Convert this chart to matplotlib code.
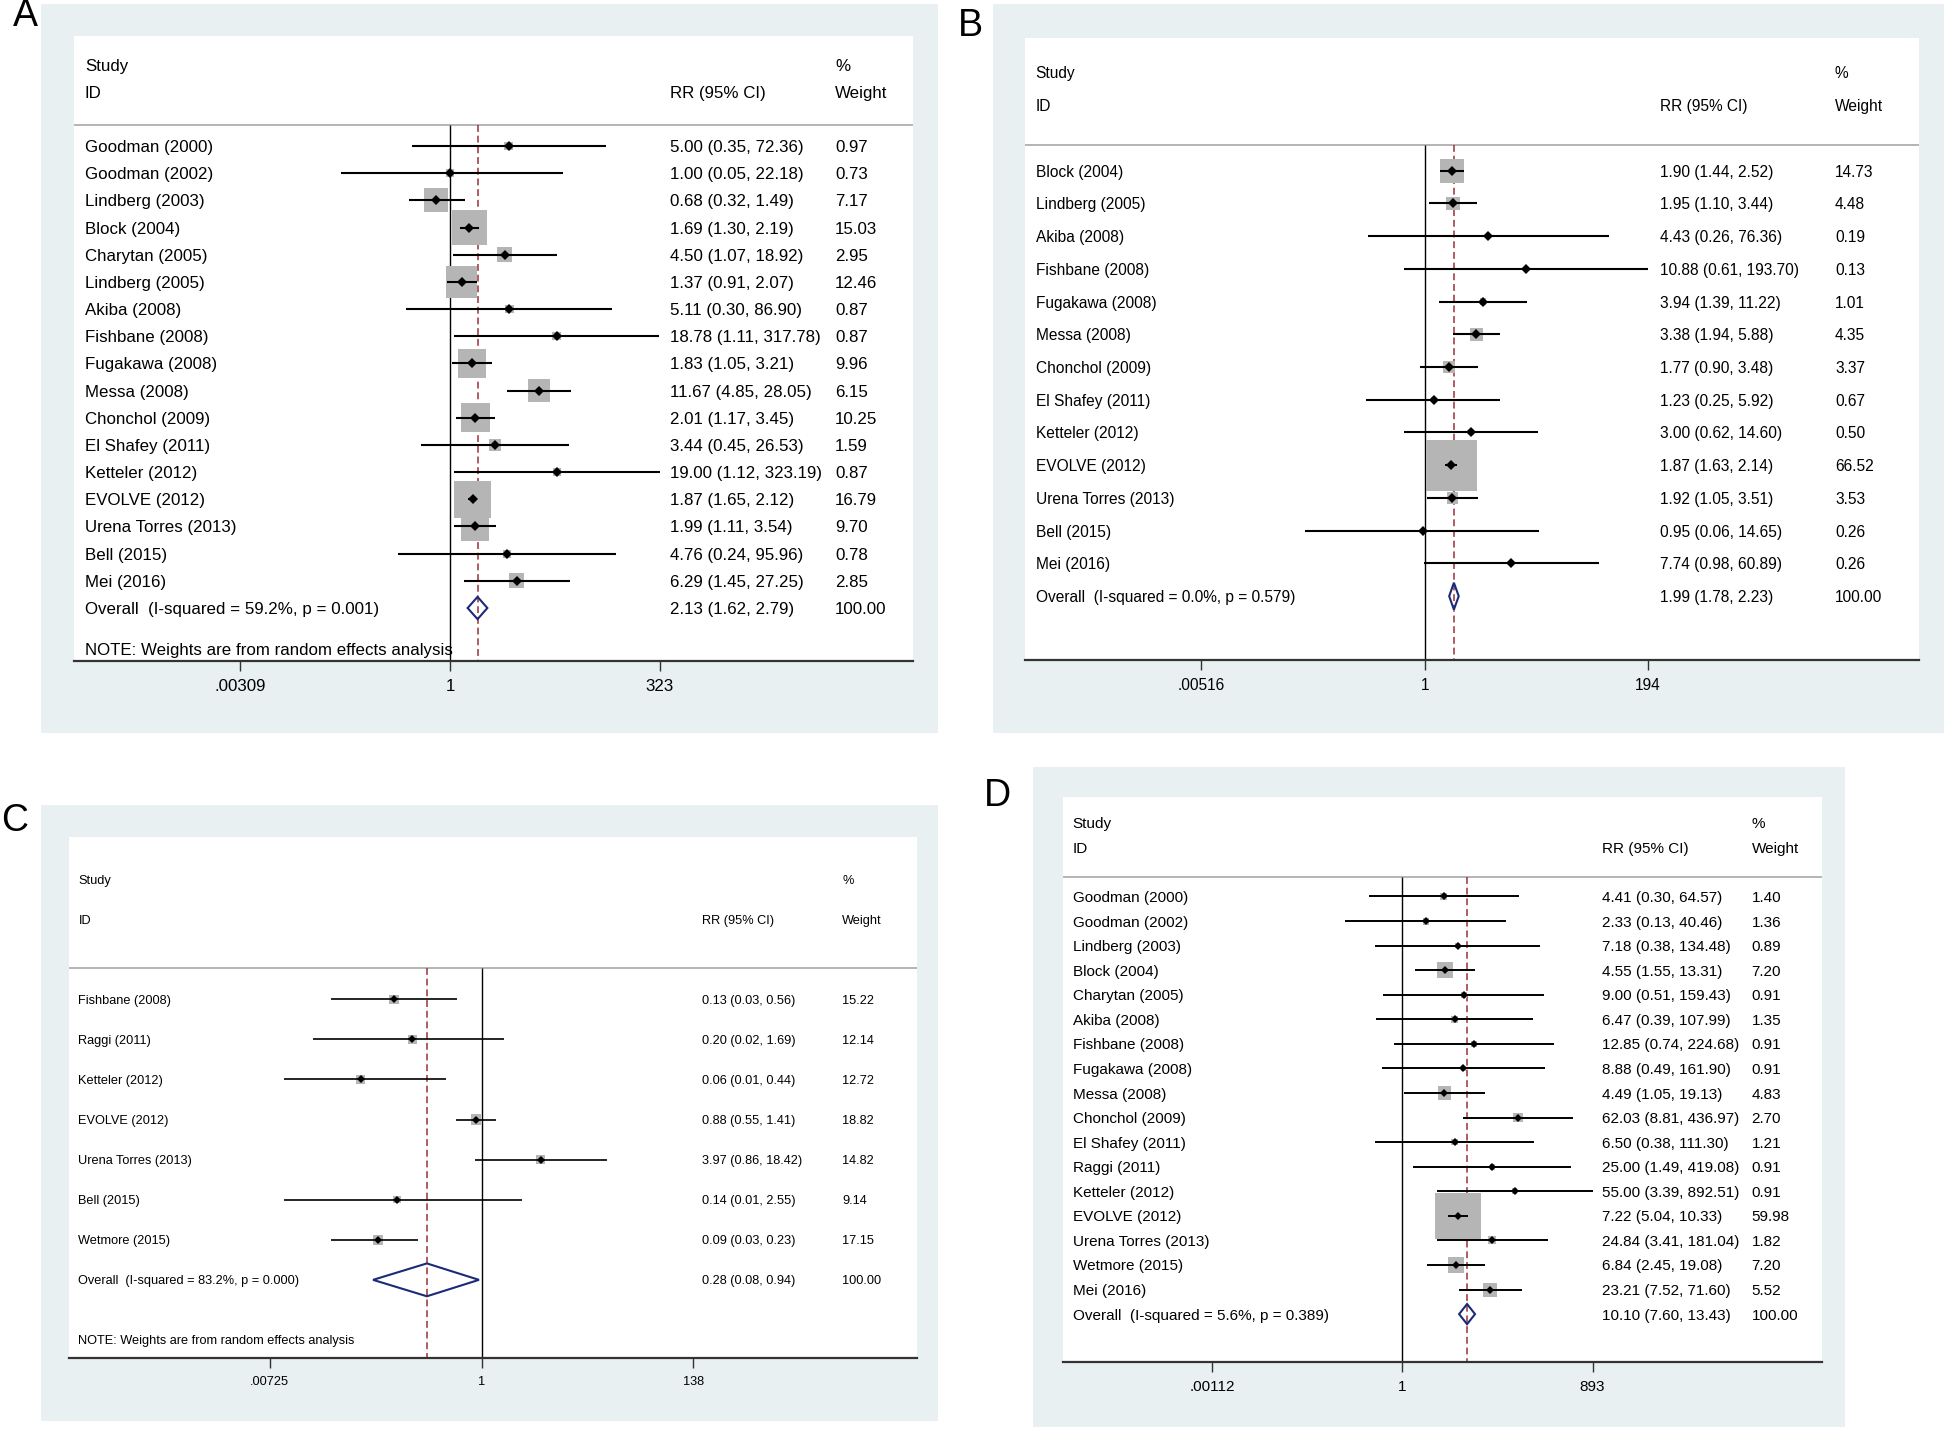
import numpy as np
import matplotlib
matplotlib.use('Agg')
import matplotlib.pyplot as plt
import matplotlib.transforms as mtransforms
from matplotlib.patches import Rectangle, Polygon
from matplotlib.ticker import NullLocator

plt.rcParams['font.family'] = ['Liberation Sans', 'DejaVu Sans']

# ---------------- data ----------------
# Panel A
a_study = ['Goodman (2000)', 'Goodman (2002)', 'Lindberg (2003)', 'Block (2004)',
           'Charytan (2005)', 'Lindberg (2005)', 'Akiba (2008)', 'Fishbane (2008)',
           'Fugakawa (2008)', 'Messa (2008)', 'Chonchol (2009)', 'El Shafey (2011)',
           'Ketteler (2012)', 'EVOLVE (2012)', 'Urena Torres (2013)', 'Bell (2015)',
           'Mei (2016)']
a_rr = [5.00, 1.00, 0.68, 1.69, 4.50, 1.37, 5.11, 18.78, 1.83, 11.67, 2.01, 3.44,
        19.00, 1.87, 1.99, 4.76, 6.29]
a_lo = [0.35, 0.05, 0.32, 1.30, 1.07, 0.91, 0.30, 1.11, 1.05, 4.85, 1.17, 0.45,
        1.12, 1.65, 1.11, 0.24, 1.45]
a_hi = [72.36, 22.18, 1.49, 2.19, 18.92, 2.07, 86.90, 317.78, 3.21, 28.05, 3.45,
        26.53, 323.19, 2.12, 3.54, 95.96, 27.25]
a_wt = [0.97, 0.73, 7.17, 15.03, 2.95, 12.46, 0.87, 0.87, 9.96, 6.15, 10.25, 1.59,
        0.87, 16.79, 9.70, 0.78, 2.85]
a_overall = [2.13, 1.62, 2.79]
a_i2, a_p = 59.2, '0.001'
a_tick, a_ticklabels = 323, ['.00309', '1', '323']

# Panel B
b_study = ['Block (2004)', 'Lindberg (2005)', 'Akiba (2008)', 'Fishbane (2008)',
           'Fugakawa (2008)', 'Messa (2008)', 'Chonchol (2009)', 'El Shafey (2011)',
           'Ketteler (2012)', 'EVOLVE (2012)', 'Urena Torres (2013)', 'Bell (2015)',
           'Mei (2016)']
b_rr = [1.90, 1.95, 4.43, 10.88, 3.94, 3.38, 1.77, 1.23, 3.00, 1.87, 1.92, 0.95, 7.74]
b_lo = [1.44, 1.10, 0.26, 0.61, 1.39, 1.94, 0.90, 0.25, 0.62, 1.63, 1.05, 0.06, 0.98]
b_hi = [2.52, 3.44, 76.36, 193.70, 11.22, 5.88, 3.48, 5.92, 14.60, 2.14, 3.51, 14.65, 60.89]
b_wt = [14.73, 4.48, 0.19, 0.13, 1.01, 4.35, 3.37, 0.67, 0.50, 66.52, 3.53, 0.26, 0.26]
b_overall = [1.99, 1.78, 2.23]
b_i2, b_p = 0.0, '0.579'
b_tick, b_ticklabels = 194, ['.00516', '1', '194']

# Panel C
c_study = ['Fishbane (2008)', 'Raggi (2011)', 'Ketteler (2012)', 'EVOLVE (2012)',
           'Urena Torres (2013)', 'Bell (2015)', 'Wetmore (2015)']
c_rr = [0.13, 0.20, 0.06, 0.88, 3.97, 0.14, 0.09]
c_lo = [0.03, 0.02, 0.01, 0.55, 0.86, 0.01, 0.03]
c_hi = [0.56, 1.69, 0.44, 1.41, 18.42, 2.55, 0.23]
c_wt = [15.22, 12.14, 12.72, 18.82, 14.82, 9.14, 17.15]
c_overall = [0.28, 0.08, 0.94]
c_i2, c_p = 83.2, '0.000'
c_tick, c_ticklabels = 138, ['.00725', '1', '138']

# Panel D
d_study = ['Goodman (2000)', 'Goodman (2002)', 'Lindberg (2003)', 'Block (2004)',
           'Charytan (2005)', 'Akiba (2008)', 'Fishbane (2008)', 'Fugakawa (2008)',
           'Messa (2008)', 'Chonchol (2009)', 'El Shafey (2011)', 'Raggi (2011)',
           'Ketteler (2012)', 'EVOLVE (2012)', 'Urena Torres (2013)', 'Wetmore (2015)',
           'Mei (2016)']
d_rr = [4.41, 2.33, 7.18, 4.55, 9.00, 6.47, 12.85, 8.88, 4.49, 62.03, 6.50, 25.00,
        55.00, 7.22, 24.84, 6.84, 23.21]
d_lo = [0.30, 0.13, 0.38, 1.55, 0.51, 0.39, 0.74, 0.49, 1.05, 8.81, 0.38, 1.49,
        3.39, 5.04, 3.41, 2.45, 7.52]
d_hi = [64.57, 40.46, 134.48, 13.31, 159.43, 107.99, 224.68, 161.90, 19.13, 436.97,
        111.30, 419.08, 892.51, 10.33, 181.04, 19.08, 71.60]
d_wt = [1.40, 1.36, 0.89, 7.20, 0.91, 1.35, 0.91, 0.91, 4.83, 2.70, 1.21, 0.91,
        0.91, 59.98, 1.82, 7.20, 5.52]
d_overall = [10.10, 7.60, 13.43]
d_i2, d_p = 5.6, '0.389'
d_tick, d_ticklabels = 893, ['.00112', '1', '893']

overall_weight = '100.00'
note_text = 'NOTE: Weights are from random effects analysis'

# ---------------- style ----------------
W, H = 1946, 1430
BG = '#e8f0f2'
BOX = '#b5b5b5'
NAVY = '#1b2a78'
MAROON = '#9a3038'
AXC = '#333333'

fig = plt.figure(figsize=(W / 100, H / 100), dpi=100)


def frect(x0, y0, x1, y1):
    return [x0 / W, 1 - y1 / H, (x1 - x0) / W, (y1 - y0) / H]


def forest(bg, white, letter, letter_xy, xlim_ln, cols, fs, box_k, lw, ms,
           study, rr, lo, hi, wt, overall, i2, p, tick, ticklabels, note):
    bx = frect(*bg)
    fig.add_artist(Rectangle((bx[0], bx[1]), bx[2], bx[3], transform=fig.transFigure,
                             facecolor=BG, edgecolor='none', zorder=-1))
    fig.text(letter_xy[0] / W, 1 - letter_xy[1] / H, letter, fontsize=27,
             ha='center', va='center')

    ax = fig.add_axes(frect(*white))
    ax.set_facecolor('white')
    n = len(study)
    rows = np.arange(n)
    bottom = n + 1.95
    sep = -0.78

    ax.set_xscale('log')
    ax.set_xlim(np.exp(xlim_ln[0]), np.exp(xlim_ln[1]))
    ax.set_ylim(bottom, -4.05)

    ax.axhline(sep, color='#a8a8a8', lw=1.2, zorder=1)
    ax.vlines(1, sep, bottom, color='black', lw=1.0, zorder=1)
    ax.vlines(overall[0], sep, bottom, color=MAROON, lw=1.1,
              linestyles=(0, (4.5, 2.5)), zorder=1)

    side = box_k * np.sqrt(np.array(wt)) * 0.72
    ax.scatter(rr, rows, s=side ** 2, marker='s', color=BOX, linewidths=0, zorder=2)
    ax.hlines(rows, lo, hi, color='black', lw=lw, zorder=3)
    ax.plot(rr, rows, 'D', color='black', ms=ms, mew=0, zorder=4)

    h = 0.41
    ax.add_patch(Polygon([(overall[1], n), (overall[0], n - h), (overall[2], n),
                          (overall[0], n + h)], closed=True, facecolor='none',
                         edgecolor=NAVY, lw=1.5, zorder=4))

    for s in ['top', 'left', 'right']:
        ax.spines[s].set_visible(False)
    ax.spines['bottom'].set_color(AXC)
    ax.spines['bottom'].set_linewidth(1.6)
    ax.set_yticks([])
    ax.set_xticks([1 / tick, 1, tick])
    ax.set_xticklabels(ticklabels)
    ax.xaxis.set_minor_locator(NullLocator())
    ax.tick_params(axis='x', direction='out', length=7.5, width=1.0, color=AXC,
                   labelsize=fs, pad=5.5)

    tr = mtransforms.blended_transform_factory(ax.transAxes, ax.transData)
    cs, cr, cw = cols
    kw = dict(transform=tr, fontsize=fs, va='center_baseline', ha='left')
    ax.text(cs, -3, 'Study', **kw)
    ax.text(cs, -2, 'ID', **kw)
    ax.text(cr, -2, 'RR (95% CI)', **kw)
    ax.text(cw, -3, '%', **kw)
    ax.text(cw, -2, 'Weight', **kw)
    for i in range(n):
        ax.text(cs, i, study[i], **kw)
        ax.text(cr, i, f'{rr[i]:.2f} ({lo[i]:.2f}, {hi[i]:.2f})', **kw)
        ax.text(cw, i, f'{wt[i]:.2f}', **kw)
    ax.text(cs, n, f'Overall  (I-squared = {i2:.1f}%, p = {p})', **kw)
    ax.text(cr, n, f'{overall[0]:.2f} ({overall[1]:.2f}, {overall[2]:.2f})', **kw)
    ax.text(cw, n, overall_weight, **kw)
    if note:
        ax.text(cs, n + 1.5, note_text, **kw)
    return ax


forest((41, 4, 938, 733), (74, 36, 913, 661), 'A', (25.5, 16.5), (-10.36, 12.75),
       (0.0131, 0.7104, 0.907), 12.2, 9.0, 1.5, 5,
       a_study, a_rr, a_lo, a_hi, a_wt, a_overall, a_i2, a_p, a_tick, a_ticklabels, True)

forest((993, 4, 1944, 733), (1025, 38, 1919, 660), 'B', (970, 26.5), (-9.43, 11.66),
       (0.0119, 0.7098, 0.906), 11.2, 6.25, 1.5, 5,
       b_study, b_rr, b_lo, b_hi, b_wt, b_overall, b_i2, b_p, b_tick, b_ticklabels, False)

forest((41, 805, 938, 1421), (69, 837, 917, 1358), 'C', (14.5, 821), (-9.60, 10.13),
       (0.0111, 0.7465, 0.9116), 9.2, 2.4, 1.2, 4,
       c_study, c_rr, c_lo, c_hi, c_wt, c_overall, c_i2, c_p, c_tick, c_ticklabels, True)

forest((1033, 767, 1845, 1427), (1063, 797, 1822, 1362), 'D', (997, 796), (-12.12, 14.99),
       (0.0126, 0.710, 0.9074), 11, 5.94, 1.4, 4.5,
       d_study, d_rr, d_lo, d_hi, d_wt, d_overall, d_i2, d_p, d_tick, d_ticklabels, False)

fig.savefig('out.png', dpi=100)
